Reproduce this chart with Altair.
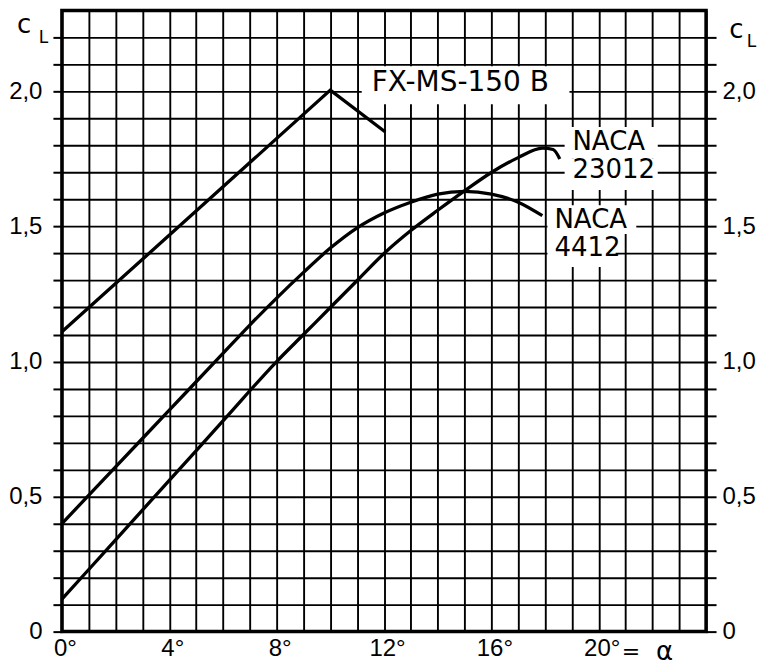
import altair as alt
import pandas as pd

# ---- curve data ----
fx_alpha = [0, 10, 12.05]
fx_cl = [1.11, 2.005, 1.85]

n4412_alpha = [0, 2, 4, 6, 7, 8, 9, 10, 11, 12, 13, 14, 15, 16, 17, 17.9]
n4412_cl = [0.40, 0.61, 0.82, 1.03, 1.135, 1.235, 1.33, 1.42, 1.495, 1.55, 1.59, 1.62, 1.63, 1.62, 1.59, 1.54]

n23012_alpha = [0, 2, 4, 6, 8, 9, 10, 11, 12, 13, 14, 15, 16, 17, 17.9, 18.3, 18.55]
n23012_cl = [0.12, 0.34, 0.56, 0.78, 1.0, 1.10, 1.20, 1.30, 1.40, 1.485, 1.56, 1.632, 1.70, 1.755, 1.79, 1.785, 1.75]

# ---- curve labels ----
label_text = ["FX-MS-150 B", "NACA", "23012", "NACA", "4412"]
label_x = [11.54, 19.02, 19.02, 18.35, 18.35]
label_y = [2.03, 1.812, 1.709, 1.524, 1.42]
label_size = [28, 26, 26, 26, 26]
box_x = [11.17, 18.73, 18.73, 18.09, 18.09]
box_x2 = [18.91, 22.2, 22.2, 21.4, 20.63]
box_y = [1.953, 1.753, 1.635, 1.472, 1.35]
box_y2 = [2.093, 1.868, 1.753, 1.579, 1.472]

# ---- axis annotations ----
ann_text = ["c", "L", "c", "L", "=", "α"]
ann_x = [-1.41, -0.69, 25.13, 25.69, 21.2, 22.45]
ann_y = [2.245, 2.199, 2.228, 2.184, -0.074, -0.074]
ann_size = [26, 17, 26, 17, 22, 26]

grid_x = list(range(0, 25))
grid_y = [round(i * 0.1, 1) for i in range(0, 23)]

FONT = "DejaVu Sans"
NUMFONT = "Liberation Sans"

fx_df = pd.DataFrame({"a": fx_alpha, "cl": fx_cl})
naca_df = pd.concat([
    pd.DataFrame({"a": n4412_alpha, "cl": n4412_cl, "s": "NACA 4412"}),
    pd.DataFrame({"a": n23012_alpha, "cl": n23012_cl, "s": "NACA 23012"}),
])
lab_df = pd.DataFrame({"t": label_text, "x": label_x, "y": label_y, "fs": label_size,
                       "bx": box_x, "bx2": box_x2, "by": box_y, "by2": box_y2})
ann_df = pd.DataFrame({"t": ann_text, "x": ann_x, "y": ann_y, "fs": ann_size})

xs = alt.Scale(domain=[0, 24], nice=False, zero=False)
ys = alt.Scale(domain=[0, 2.3], nice=False, zero=False)

ylab = ("datum.value == 0 ? '0' : (abs(datum.value * 2 - round(datum.value * 2)) < 0.01 ? "
        "replace(format(datum.value, '.1f'), '.', ',') : '')")

x_axis = alt.Axis(values=grid_x, grid=True, gridColor="black", gridWidth=1.9, gridOpacity=1,
                  tickSize=0, domain=False, title=None,
                  labelExpr="datum.value % 4 == 0 && datum.value <= 20 ? datum.value + '°' : ''",
                  labelFont=NUMFONT, labelFontSize=24, labelColor="black", labelPadding=5,
                  labelOverlap=False, labelFlush=False, labelOffset=3)

y_left = alt.Axis(values=grid_y, orient="left", grid=True, gridColor="black", gridWidth=1.9,
                  gridOpacity=1, tickSize=9, tickWidth=2, tickColor="black", domain=False,
                  title=None, labelExpr=ylab, labelFont=NUMFONT, labelFontSize=24,
                  labelColor="black", labelPadding=11, labelOverlap=False, labelFlush=False)

y_right = alt.Axis(values=grid_y, orient="right", grid=False, tickSize=10, tickWidth=2,
                   tickColor="black", domain=False, title=None, labelExpr=ylab,
                   labelFont=NUMFONT, labelFontSize=24, labelColor="black", labelPadding=6,
                   labelOverlap=False, labelFlush=False)

boxes = alt.Chart(lab_df).mark_rect(fill="white").encode(
    x=alt.X("bx:Q", scale=xs, axis=None),
    x2="bx2:Q",
    y=alt.Y("by:Q", scale=ys, axis=y_right),
    y2="by2:Q",
)

fx_line = alt.Chart(fx_df).mark_line(color="black", strokeWidth=3.3, interpolate="linear").encode(
    x=alt.X("a:Q", scale=xs, axis=x_axis),
    y=alt.Y("cl:Q", scale=ys, axis=y_left),
)

naca_lines = alt.Chart(naca_df).mark_line(color="black", strokeWidth=3.3, interpolate="monotone").encode(
    x=alt.X("a:Q", scale=xs, axis=None),
    y=alt.Y("cl:Q", scale=ys, axis=None),
    detail="s:N",
)

labels = alt.Chart(lab_df).mark_text(align="left", baseline="middle", font=FONT, color="black").encode(
    x=alt.X("x:Q", scale=xs, axis=None),
    y=alt.Y("y:Q", scale=ys, axis=None),
    text="t:N",
    size=alt.Size("fs:Q", scale=None, legend=None),
)

ann = alt.Chart(ann_df).mark_text(align="center", baseline="middle", font=FONT, color="black").encode(
    x=alt.X("x:Q", scale=xs, axis=None),
    y=alt.Y("y:Q", scale=ys, axis=None),
    text="t:N",
    size=alt.Size("fs:Q", scale=None, legend=None),
)

chart = alt.layer(fx_line, boxes, naca_lines, labels, ann).resolve_axis(
    x="independent", y="independent"
).properties(
    width=645, height=622,
    autosize=alt.AutoSizeParams(type="none"),
    padding={"left": 54, "top": 2, "right": 56, "bottom": 38},
    background="white",
).configure_view(stroke="black", strokeWidth=3.5)

chart.save("out.html", embed_options={"renderer": "svg", "actions": False})
